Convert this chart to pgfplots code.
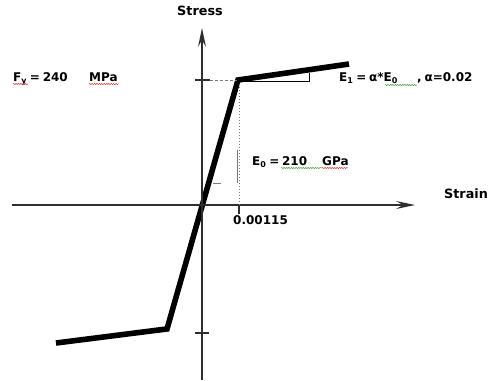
\documentclass[border=0pt]{standalone}
\usepackage{pgfplots}
\pgfplotsset{compat=1.18}
\usepackage{fontspec}
\setmainfont{DejaVu Sans}
\usetikzlibrary{arrows.meta,decorations.pathmorphing}
\definecolor{axgray}{HTML}{2E2E2E}
\definecolor{lgray}{HTML}{7A7A7A}
\definecolor{sqred}{HTML}{E03030}
\definecolor{sqgreen}{HTML}{3FA03F}
\newcommand\lblfont{\bfseries\fontsize{12}{15}\selectfont\spaceskip=2.8pt\relax}
\newcommand\axfont{\bfseries\fontsize{12.8}{15}\selectfont}
\begin{document}
\begin{tikzpicture}
\begin{axis}[
  name=ax,
  scale only axis,
  width=489pt, height=380pt,
  xmin=-0.0064528, xmax=0.0091681,
  ymin=-336, ymax=393.6,
  axis lines=none,
  clip=false,
]
\path (rel axis cs:0,0) rectangle (rel axis cs:1,1);
% stress-strain curve (strain, stress in MPa)
\addplot[black, line width=5.6pt, line join=miter] coordinates {
  (-0.004664,-265)
  (-0.001118,-238)
  (0.00115,240)
  (0.004696,270.7)
};
\end{axis}
\begin{scope}[shift={(ax.north west)}, x=1pt, y=-1pt, font=\lblfont]
% axes
\draw[axgray, line width=1.3pt, -{Stealth[length=19pt,width=8pt,inset=7pt]}] (12,205) -- (415,205);
\draw[axgray, line width=1.3pt, -{Stealth[length=19pt,width=8pt,inset=7pt]}] (202,380) -- (202,28);
% ticks
\draw[axgray, line width=1.2pt] (195,80) -- (210,80);
\draw[axgray, line width=1.2pt] (195,333) -- (209,333);
\draw[axgray, line width=1.2pt] (239,205) -- (239,214);
% guide lines
\draw[lgray, line width=0.8pt, dash pattern=on 3pt off 2pt] (210,80) -- (237,80);
\draw[lgray, line width=0.8pt, dash pattern=on 1.5pt off 1.5pt] (239,84) -- (239,205);
\draw[lgray, line width=1.1pt] (237.5,150) -- (237.5,183);
\draw[lgray, line width=0.9pt] (213,183) -- (221,183);
\draw[black, line width=0.8pt] (240,81) -- (309,81) -- (309,73);
% texts
\node[anchor=base, inner sep=0pt, font=\axfont] at (200,16) {Stress};
\node[anchor=base, inner sep=0pt, font=\axfont] at (466,199) {Strain};
\node[anchor=base west, inner sep=0pt] at (233,225) {0.00115};
\node[anchor=base west, inner sep=0pt] at (13,81.5) {F\textsubscript{y} = 240};
\node[anchor=base west, inner sep=0pt] at (89,81.5) {MPa};
\node[anchor=base west, inner sep=0pt] at (339,81.5) {E\textsubscript{1} = α*E\textsubscript{0}};
\node[anchor=base west, inner sep=0pt] at (417,81.5) {, α=0.02};
\node[anchor=base west, inner sep=0pt] at (252,166) {E\textsubscript{0} = 210};
\node[anchor=base west, inner sep=0pt] at (322,166) {GPa};
% spell-check squiggles
\begin{scope}[line width=0.5pt, decoration={snake, amplitude=0.6pt, segment length=2.4pt}]
\draw[sqred, decorate] (13,84) -- (28,84);
\draw[sqred, decorate] (89,84) -- (119,84);
\draw[sqgreen, decorate] (385,85) -- (417,85);
\draw[sqgreen, decorate] (281,168) -- (322,168);
\draw[sqred, decorate] (322,168) -- (348,168);
\end{scope}
\end{scope}
\end{tikzpicture}
\end{document}
